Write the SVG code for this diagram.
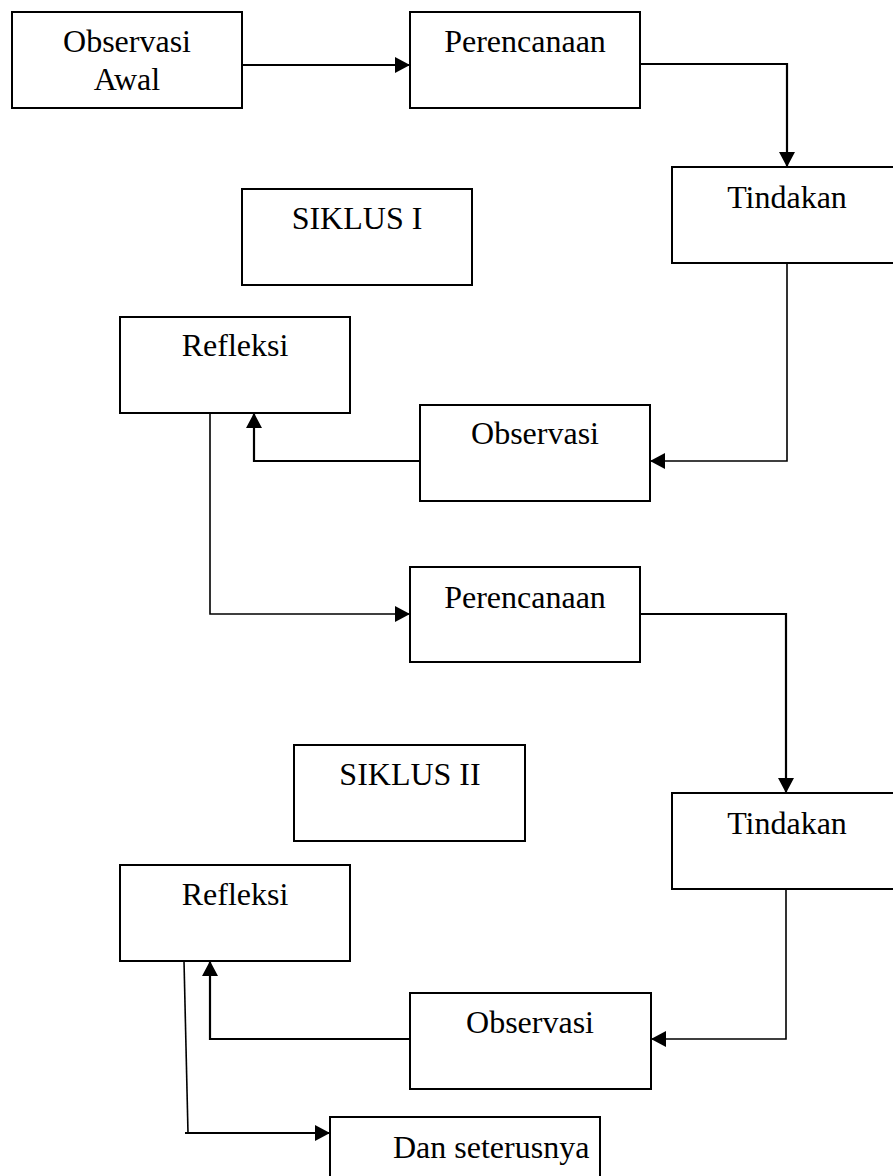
<svg xmlns="http://www.w3.org/2000/svg" width="893" height="1176" viewBox="0 0 893 1176">
<style>
.box{fill:#fff;stroke:#000;stroke-width:2}
.lbl{font-family:"Liberation Serif","Times New Roman",serif;font-size:32px;fill:#000;text-anchor:middle}
.con{fill:none;stroke:#000;stroke-width:2.2}
.thin{fill:none;stroke:#000;stroke-width:1.6}
</style>
<defs>
<marker id="ah" markerUnits="userSpaceOnUse" markerWidth="16" markerHeight="16" refX="15" refY="8" orient="auto">
<path d="M0,0 L15,8 L0,16 Z" fill="#000"/>
</marker>
</defs>
<rect width="893" height="1176" fill="#fff"/>
<g id="obs-awal"><rect class="box" x="12" y="12" width="230" height="96"/><text class="lbl" x="127" y="52">Observasi</text><text class="lbl" x="127" y="90">Awal</text></g>
<g id="perencanaan1"><rect class="box" x="410" y="12" width="230" height="96"/><text class="lbl" x="525" y="52">Perencanaan</text></g>
<g id="tindakan1"><rect class="box" x="672" y="167" width="230" height="96"/><text class="lbl" x="787" y="208">Tindakan</text></g>
<g id="siklus1"><rect class="box" x="242" y="189" width="230" height="96"/><text class="lbl" x="357" y="229">SIKLUS I</text></g>
<g id="refleksi1"><rect class="box" x="120" y="317" width="230" height="96"/><text class="lbl" x="235" y="356">Refleksi</text></g>
<g id="observasi1"><rect class="box" x="420" y="405" width="230" height="96"/><text class="lbl" x="535" y="444">Observasi</text></g>
<g id="perencanaan2"><rect class="box" x="410" y="567" width="230" height="95"/><text class="lbl" x="525" y="608">Perencanaan</text></g>
<g id="siklus2"><rect class="box" x="294" y="745" width="231" height="96"/><text class="lbl" x="410" y="785">SIKLUS II</text></g>
<g id="tindakan2"><rect class="box" x="672" y="793" width="230" height="96"/><text class="lbl" x="787" y="834">Tindakan</text></g>
<g id="refleksi2"><rect class="box" x="120" y="865" width="230" height="96"/><text class="lbl" x="235" y="905">Refleksi</text></g>
<g id="observasi2"><rect class="box" x="410" y="993" width="241" height="96"/><text class="lbl" x="530" y="1033">Observasi</text></g>
<g id="dst"><rect class="box" x="330" y="1117" width="270" height="96"/><text class="lbl" x="393" y="1158" style="text-anchor:start">Dan seterusnya</text></g>
<g id="connectors">
<path class="con" d="M242,65 H410" marker-end="url(#ah)"/>
<path class="con" d="M640,64 H787 V167" marker-end="url(#ah)"/>
<path class="thin" d="M787,263 V461 H650" marker-end="url(#ah)"/>
<path class="con" d="M420,461 H254 V413" marker-end="url(#ah)"/>
<path class="thin" d="M210,413 V614 H410" marker-end="url(#ah)"/>
<path class="con" d="M640,614 H786 V793" marker-end="url(#ah)"/>
<path class="thin" d="M786,889 V1039 H651" marker-end="url(#ah)"/>
<path class="con" d="M410,1039 H210 V961" marker-end="url(#ah)"/>
<path class="thin" d="M184,961 L188,1133"/>
<path class="con" d="M185,1133 H330" marker-end="url(#ah)"/>
</g>
</svg>
